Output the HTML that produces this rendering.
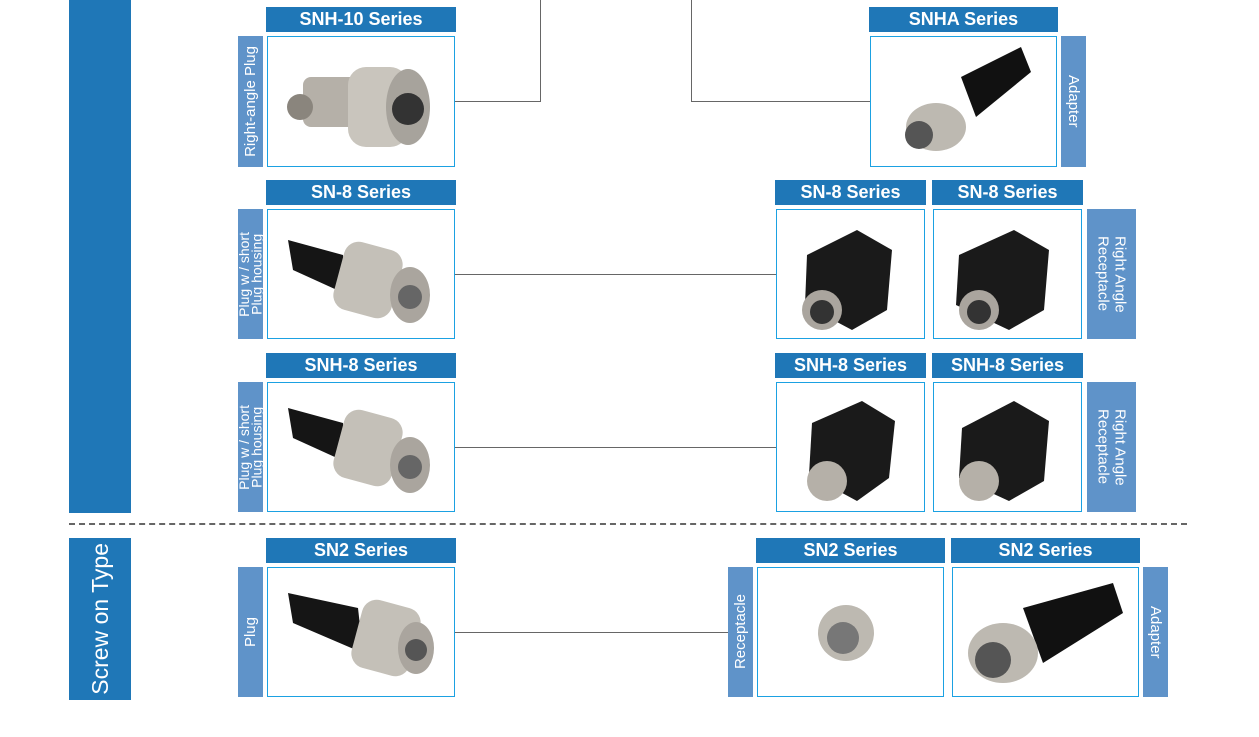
<!DOCTYPE html>
<html><head><meta charset="utf-8"><style>
body{margin:0;width:1259px;height:737px;background:#fff;position:relative;overflow:hidden;font-family:"Liberation Sans",Arial,sans-serif}
div{position:absolute;box-sizing:border-box}
.h{background:#1f77b7;color:#fff;font-size:18px;font-weight:bold;text-align:center;line-height:25px;height:25px}
.b{border:1.5px solid #1ba1e2;background:#fff;overflow:hidden}
.s{background:#5f93c9;color:#fff;font-size:15px;display:flex;align-items:center;justify-content:center;text-align:center;line-height:17px}
.s2{font-size:14px;line-height:12.5px}
.up{writing-mode:vertical-rl;transform:rotate(180deg)}
.dn{writing-mode:vertical-rl}
.l{background:#666}
.b svg{position:absolute;left:0;top:0}
</style></head><body>
<div style="left:69px;top:0;width:62px;height:513px;background:#1f77b7"></div>
<div style="left:69px;top:538px;width:62px;height:162px;background:#1f77b7;color:#fff;font-size:23px;display:flex;align-items:center;justify-content:center"><span class="up" style="position:static">Screw on Type</span></div>
<div style="left:69px;top:523px;width:1118px;height:0;border-top:2px dashed #666"></div>

<!-- connectors -->
<div class="l" style="left:455px;top:101px;width:86px;height:1px"></div>
<div class="l" style="left:540px;top:0;width:1px;height:102px"></div>
<div class="l" style="left:691px;top:0;width:1px;height:102px"></div>
<div class="l" style="left:691px;top:101px;width:179px;height:1px"></div>
<div class="l" style="left:455px;top:274px;width:321px;height:1px"></div>
<div class="l" style="left:455px;top:447px;width:321px;height:1px"></div>
<div class="l" style="left:455px;top:632px;width:273px;height:1px"></div>

<!-- row1 -->
<div class="h" style="left:266px;top:7px;width:190px">SNH-10 Series</div>
<div class="s" style="left:238px;top:36px;width:25px;height:131px"><span class="up" style="position:static">Right-angle Plug</span></div>
<div class="b" style="left:267px;top:36px;width:188px;height:131px"><svg width="188" height="131"><rect x="35" y="40" width="60" height="50" rx="8" fill="#b5b0a8"/><circle cx="32" cy="70" r="13" fill="#8a857d"/><rect x="80" y="30" width="60" height="80" rx="18" fill="#c9c5bd"/><ellipse cx="140" cy="70" rx="22" ry="38" fill="#a7a39c"/><circle cx="140" cy="72" r="16" fill="#333"/></svg></div>
<div class="h" style="left:869px;top:7px;width:189px">SNHA Series</div>
<div class="b" style="left:870px;top:36px;width:187px;height:131px"><svg width="187" height="131"><path d="M90 40 L150 10 L160 35 L105 80Z" fill="#111"/><ellipse cx="65" cy="90" rx="30" ry="24" fill="#bdb9b1"/><circle cx="48" cy="98" r="14" fill="#555"/></svg></div>
<div class="s" style="left:1061px;top:36px;width:25px;height:131px"><span class="dn" style="position:static">Adapter</span></div>

<!-- row2 -->
<div class="h" style="left:266px;top:180px;width:190px">SN-8 Series</div>
<div class="s s2" style="left:238px;top:209px;width:25px;height:130px"><span class="up" style="position:static">Plug w / short<br>Plug housing</span></div>
<div class="b" style="left:267px;top:209px;width:188px;height:130px"><svg width="188" height="130"><path d="M20 30 L75 45 L80 85 L25 60Z" fill="#151515"/><rect x="70" y="35" width="60" height="70" rx="15" fill="#c4c0b8" transform="rotate(15 100 70)"/><ellipse cx="142" cy="85" rx="20" ry="28" fill="#aaa59e"/><circle cx="142" cy="87" r="12" fill="#666"/></svg></div>
<div class="h" style="left:775px;top:180px;width:151px">SN-8 Series</div>
<div class="h" style="left:932px;top:180px;width:151px">SN-8 Series</div>
<div class="b" style="left:776px;top:209px;width:149px;height:130px"><svg width="149" height="130"><path d="M30 45 L80 20 L115 40 L110 100 L75 120 L28 95Z" fill="#1a1a1a"/><circle cx="45" cy="100" r="20" fill="#aaa59e"/><circle cx="45" cy="102" r="12" fill="#333"/></svg></div>
<div class="b" style="left:933px;top:209px;width:149px;height:130px"><svg width="149" height="130"><path d="M25 45 L80 20 L115 40 L110 100 L75 120 L22 95Z" fill="#1a1a1a"/><circle cx="45" cy="100" r="20" fill="#aaa59e"/><circle cx="45" cy="102" r="12" fill="#333"/></svg></div>
<div class="s" style="left:1087px;top:209px;width:49px;height:130px"><span class="dn" style="position:static">Right Angle<br>Receptacle</span></div>

<!-- row3 -->
<div class="h" style="left:266px;top:353px;width:190px">SNH-8 Series</div>
<div class="s s2" style="left:238px;top:382px;width:25px;height:130px"><span class="up" style="position:static">Plug w / short<br>Plug housing</span></div>
<div class="b" style="left:267px;top:382px;width:188px;height:130px"><svg width="188" height="130"><path d="M20 25 L75 40 L80 80 L25 55Z" fill="#151515"/><rect x="70" y="30" width="60" height="70" rx="15" fill="#c4c0b8" transform="rotate(15 100 65)"/><ellipse cx="142" cy="82" rx="20" ry="28" fill="#aaa59e"/><circle cx="142" cy="84" r="12" fill="#666"/></svg></div>
<div class="h" style="left:775px;top:353px;width:151px">SNH-8 Series</div>
<div class="h" style="left:932px;top:353px;width:151px">SNH-8 Series</div>
<div class="b" style="left:776px;top:382px;width:149px;height:130px"><svg width="149" height="130"><path d="M35 40 L85 18 L118 38 L112 95 L80 118 L32 92Z" fill="#1a1a1a"/><circle cx="50" cy="98" r="20" fill="#b5b0a8"/></svg></div>
<div class="b" style="left:933px;top:382px;width:149px;height:130px"><svg width="149" height="130"><path d="M28 45 L80 18 L115 38 L110 98 L75 118 L25 95Z" fill="#1a1a1a"/><circle cx="45" cy="98" r="20" fill="#b5b0a8"/></svg></div>
<div class="s" style="left:1087px;top:382px;width:49px;height:130px"><span class="dn" style="position:static">Right Angle<br>Receptacle</span></div>

<!-- row4 -->
<div class="h" style="left:266px;top:538px;width:190px">SN2 Series</div>
<div class="s" style="left:238px;top:567px;width:25px;height:130px"><span class="up" style="position:static">Plug</span></div>
<div class="b" style="left:267px;top:567px;width:188px;height:130px"><svg width="188" height="130"><path d="M20 25 L90 40 L95 85 L25 55Z" fill="#151515"/><rect x="88" y="35" width="60" height="70" rx="15" fill="#c4c0b8" transform="rotate(15 118 70)"/><ellipse cx="148" cy="80" rx="18" ry="26" fill="#aaa59e"/><circle cx="148" cy="82" r="11" fill="#555"/></svg></div>
<div class="s" style="left:728px;top:567px;width:25px;height:130px"><span class="up" style="position:static">Receptacle</span></div>
<div class="h" style="left:756px;top:538px;width:189px">SN2 Series</div>
<div class="b" style="left:757px;top:567px;width:187px;height:130px"><svg width="187" height="130"><circle cx="88" cy="65" r="28" fill="#bdb9b1"/><circle cx="85" cy="70" r="16" fill="#777"/></svg></div>
<div class="h" style="left:951px;top:538px;width:189px">SN2 Series</div>
<div class="b" style="left:952px;top:567px;width:187px;height:130px"><svg width="187" height="130"><path d="M70 40 L160 15 L170 45 L90 95Z" fill="#111"/><ellipse cx="50" cy="85" rx="35" ry="30" fill="#bdb9b1"/><circle cx="40" cy="92" r="18" fill="#555"/></svg></div>
<div class="s" style="left:1143px;top:567px;width:25px;height:130px"><span class="dn" style="position:static">Adapter</span></div>
</body></html>
